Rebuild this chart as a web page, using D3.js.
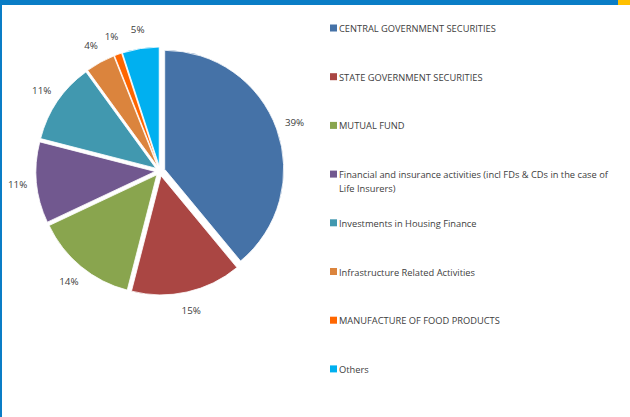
<!DOCTYPE html>
<html>

<head>
    <title>portfolio pie</title>
    <style>
        body { margin: 0; background: #fff; }
        text { font-family: "Open Sans", sans-serif; fill: #404040; }
    </style>
</head>

<body>
    <script src="https://cdn.jsdelivr.net/npm/d3@7"></script>
    <script>
        let categories = [
            "CENTRAL GOVERNMENT SECURITIES",
            "STATE GOVERNMENT SECURITIES",
            "MUTUAL FUND",
            "Financial and insurance activities (incl FDs & CDs in the case of|Life Insurers)",
            "Investments in Housing Finance",
            "Infrastructure Related Activities",
            "MANUFACTURE OF FOOD PRODUCTS",
            "Others"
        ];
        let values = [39, 15, 14, 11, 11, 4, 1, 5];
        let colors = ["#4572a7", "#aa4643", "#89a54e", "#71588f", "#4198af", "#db843d", "#ff6600", "#00b0f0"];

        let width = 630, height = 417;
        let cx = 160, cy = 171;
        let radius = 119;
        let explode = 5;
        let labelR = 143;

        let svg = d3.select("body").append("svg")
            .attr("width", width)
            .attr("height", height);

        // frame
        svg.append("rect").attr("x", 0).attr("y", 0).attr("width", width).attr("height", 5).style("fill", "#0a7dc6");
        svg.append("rect").attr("x", 618).attr("y", 0).attr("width", 12).attr("height", 5).style("fill", "#ffc000");
        svg.append("rect").attr("x", 0).attr("y", 0).attr("width", 2).attr("height", height).style("fill", "#0a7dc6");

        let pie = d3.pie().sort(null).value(function(d) { return d; });
        let arcs = pie(values);
        let arc = d3.arc().innerRadius(0).outerRadius(radius);
        let labelArc = d3.arc().innerRadius(labelR).outerRadius(labelR);

        let g = svg.append("g").attr("transform", "translate(" + cx + "," + cy + ")");

        g.selectAll("path")
            .data(arcs)
            .enter()
            .append("path")
            .attr("d", arc)
            .attr("transform", function(d) {
                let a = (d.startAngle + d.endAngle) / 2;
                return "translate(" + (Math.sin(a) * explode) + "," + (-Math.cos(a) * explode) + ")";
            })
            .style("fill", function(d, i) { return colors[i]; })
            .style("stroke", "#fff")
            .style("stroke-width", 0.8);

        g.selectAll("text.pct")
            .data(arcs)
            .enter()
            .append("text")
            .attr("class", "pct")
            .attr("x", function(d) { return labelArc.centroid(d)[0]; })
            .attr("y", function(d) { return labelArc.centroid(d)[1]; })
            .attr("text-anchor", "middle")
            .attr("dominant-baseline", "central")
            .style("font-size", "9.8px")
            .text(function(d) { return d.data + "%"; });

        // legend
        let legendX = 330, legendY = 28, legendStep = 48.7;
        let lg = svg.selectAll("g.legend")
            .data(categories)
            .enter()
            .append("g")
            .attr("class", "legend")
            .attr("transform", function(d, i) { return "translate(" + legendX + "," + (legendY + i * legendStep) + ")"; });

        lg.append("rect")
            .attr("x", 0)
            .attr("y", -3.5)
            .attr("width", 7)
            .attr("height", 7)
            .style("fill", function(d, i) { return colors[i]; });

        lg.append("text")
            .attr("x", 9)
            .attr("y", 0)
            .attr("dominant-baseline", "central")
            .style("font-size", "9.3px")
            .selectAll("tspan")
            .data(function(d) { return d.split("|"); })
            .enter()
            .append("tspan")
            .attr("x", 9)
            .attr("dy", function(d, i) { return i == 0 ? 0 : 14; })
            .text(function(d) { return d; });
    </script>
</body>

</html>
